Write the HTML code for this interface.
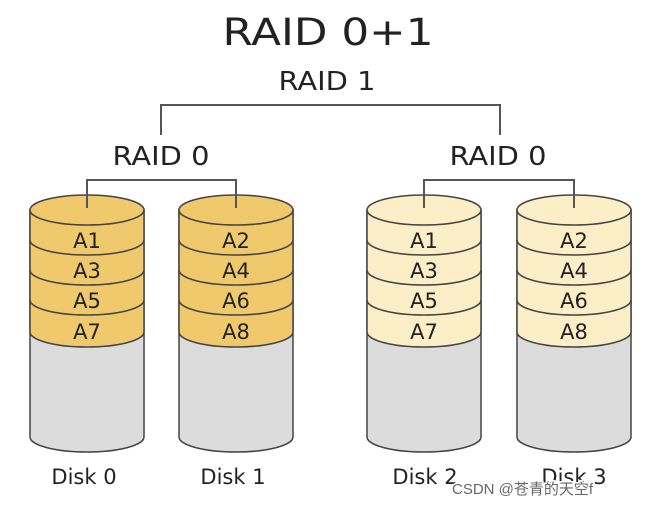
<!DOCTYPE html>
<html><head><meta charset="utf-8"><style>html,body{margin:0;padding:0;background:#fff}svg{display:block}</style></head>
<body>
<svg width="645" height="506" viewBox="0 0 645 506" xmlns="http://www.w3.org/2000/svg" font-family="'DejaVu Sans','Liberation Sans',sans-serif" fill="#222">
<text x="328" y="45" font-size="37" text-anchor="middle" textLength="211" lengthAdjust="spacingAndGlyphs">RAID 0+1</text>
<text x="327" y="90" font-size="26" text-anchor="middle" textLength="97" lengthAdjust="spacingAndGlyphs">RAID 1</text>
<text x="161" y="165" font-size="26" text-anchor="middle" textLength="97" lengthAdjust="spacingAndGlyphs">RAID 0</text>
<text x="498" y="165" font-size="26" text-anchor="middle" textLength="97" lengthAdjust="spacingAndGlyphs">RAID 0</text>
<g stroke="#555" stroke-width="2" fill="none">
<path d="M161 135 V105 H500 V135"/>
<path d="M87 208 V180 H236 V208"/>
<path d="M424 208 V180 H574 V208"/>
</g>
<defs>
<g id="disk">
<path d="M-57 210 V437 A57 15 0 0 0 57 437 V210 Z" fill="#dcdcdc" stroke="#444" stroke-width="1.5"/>
<path d="M-57 210 V332 A57 15 0 0 0 57 332 V210 Z" fill="var(--c)" stroke="#444" stroke-width="1.5"/>
<g fill="none" stroke="#444" stroke-width="1.5">
<path d="M-57 240 A57 15 0 0 0 57 240"/>
<path d="M-57 270 A57 15 0 0 0 57 270"/>
<path d="M-57 300 A57 15 0 0 0 57 300"/>
</g>
<ellipse cx="0" cy="210" rx="57" ry="15" fill="var(--c)" stroke="#444" stroke-width="1.5"/>
</g>
</defs>
<use href="#disk" x="87" style="--c:#f0c96c"/>
<use href="#disk" x="236" style="--c:#f0c96c"/>
<use href="#disk" x="424" style="--c:#fcefc7"/>
<use href="#disk" x="574" style="--c:#fcefc7"/>
<g stroke="#555" stroke-width="2"><path d="M87 180V208M236 180V208M424 180V208M574 180V208"/></g>
<g font-size="21" text-anchor="middle">
<text x="87" y="248">A1</text><text x="87" y="278">A3</text><text x="87" y="308">A5</text><text x="87" y="339">A7</text>
<text x="236" y="248">A2</text><text x="236" y="278">A4</text><text x="236" y="308">A6</text><text x="236" y="339">A8</text>
<text x="424" y="248">A1</text><text x="424" y="278">A3</text><text x="424" y="308">A5</text><text x="424" y="339">A7</text>
<text x="574" y="248">A2</text><text x="574" y="278">A4</text><text x="574" y="308">A6</text><text x="574" y="339">A8</text>
</g>
<g font-size="21" text-anchor="middle">
<text x="84" y="484">Disk 0</text><text x="233" y="484">Disk 1</text><text x="425" y="484">Disk 2</text><text x="574" y="484">Disk 3</text>
</g>
<text x="452" y="494" font-size="15" fill="#fff" stroke="#fff" stroke-width="3" font-family="'Liberation Sans','Noto Sans CJK SC',sans-serif">CSDN @苍青的天空f</text>
<text x="452" y="494" font-size="15" fill="#666" font-family="'Liberation Sans','Noto Sans CJK SC',sans-serif">CSDN @苍青的天空f</text>
</svg>
</body></html>
